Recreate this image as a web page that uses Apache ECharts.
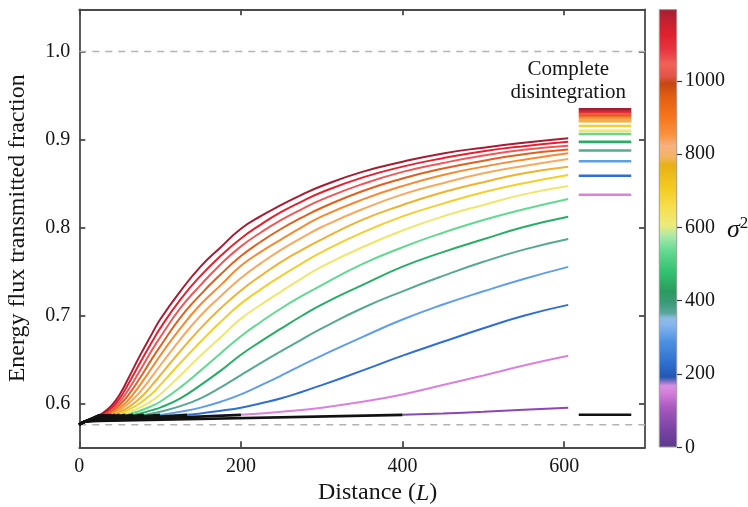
<!DOCTYPE html>
<html>
<head>
<meta charset="utf-8">
<script src="https://cdn.jsdelivr.net/npm/echarts@6/dist/echarts.min.js"></script>
<style>
  html, body { margin: 0; padding: 0; background: #ffffff; }
  #chart { width: 748px; height: 507px; }
</style>
</head>
<body>
<div id="chart"></div>
<script>
// Noise variance of each run (one curve per value)
const sigma2 = [75, 150, 225, 300, 375, 450, 525, 600, 675, 750, 825, 900, 975, 1050, 1125, 1200];

// Transmitted fraction vs. distance once the beam starts to break up.
// The first point of each list is where the early (black) stage ends.
const frac75   = [[400, 0.5878], [450, 0.5894], [500, 0.5914], [550, 0.5937], [605, 0.5958]];
const frac150  = [[200, 0.5878], [250, 0.5914], [300, 0.5960], [350, 0.6027], [400, 0.6110], [450, 0.6216], [500, 0.6325], [550, 0.6438], [605, 0.6548]];
const frac225  = [[133.3, 0.5878], [150, 0.5894], [175, 0.5925], [200, 0.5960], [225, 0.6010], [250, 0.6066], [275, 0.6138], [300, 0.6216], [350, 0.6380], [400, 0.6550], [450, 0.6707], [500, 0.6860], [550, 0.7003], [605, 0.7126]];
const frac300  = [[100, 0.5878], [125, 0.5914], [150, 0.5960], [175, 0.6027], [200, 0.6110], [225, 0.6215], [250, 0.6325], [275, 0.6440], [300, 0.6550], [350, 0.6760], [400, 0.6960], [450, 0.7130], [500, 0.7280], [550, 0.7420], [605, 0.7557]];
const frac375  = [[80, 0.5878], [90, 0.5894], [100, 0.5914], [125, 0.5977], [150, 0.6066], [175, 0.6190], [200, 0.6330], [225, 0.6468], [250, 0.6602], [275, 0.6733], [300, 0.6860], [350, 0.7088], [400, 0.7280], [450, 0.7455], [500, 0.7615], [550, 0.7753], [605, 0.7874]];
const frac450  = [[66.7, 0.5878], [75, 0.5894], [90, 0.5932], [100, 0.5960], [125, 0.6066], [150, 0.6216], [175, 0.6380], [200, 0.6560], [225, 0.6715], [250, 0.6860], [275, 0.7000], [300, 0.7130], [350, 0.7350], [400, 0.7560], [450, 0.7725], [500, 0.7870], [550, 0.8010], [605, 0.8127]];
const frac525  = [[57.1, 0.5878], [60, 0.5886], [75, 0.5925], [90, 0.5980], [100, 0.6027], [125, 0.6190], [150, 0.6380], [175, 0.6577], [200, 0.6770], [225, 0.6935], [250, 0.7088], [275, 0.7225], [300, 0.7350], [350, 0.7588], [400, 0.7780], [450, 0.7945], [500, 0.8090], [550, 0.8211], [605, 0.8328]];
const frac600  = [[50, 0.5878], [60, 0.5905], [75, 0.5960], [90, 0.6040], [100, 0.6110], [125, 0.6325], [150, 0.6550], [175, 0.6760], [200, 0.6970], [225, 0.7130], [250, 0.7280], [275, 0.7425], [300, 0.7560], [350, 0.7780], [400, 0.7970], [450, 0.8130], [500, 0.8260], [550, 0.8380], [605, 0.8475]];
const frac675  = [[44.4, 0.5878], [50, 0.5894], [60, 0.5932], [75, 0.6010], [90, 0.6120], [100, 0.6216], [125, 0.6466], [150, 0.6707], [175, 0.6934], [200, 0.7140], [225, 0.7305], [250, 0.7455], [275, 0.7595], [300, 0.7725], [350, 0.7945], [400, 0.8130], [450, 0.8275], [500, 0.8404], [550, 0.8507], [605, 0.8600]];
const frac750  = [[40, 0.5878], [50, 0.5914], [60, 0.5960], [75, 0.6066], [90, 0.6216], [100, 0.6325], [125, 0.6602], [150, 0.6860], [175, 0.7088], [200, 0.7290], [225, 0.7460], [250, 0.7615], [275, 0.7748], [300, 0.7870], [350, 0.8090], [400, 0.8260], [450, 0.8404], [500, 0.8518], [550, 0.8619], [605, 0.8694]];
const frac825  = [[36.4, 0.5878], [40, 0.5890], [50, 0.5937], [60, 0.6000], [75, 0.6137], [90, 0.6314], [100, 0.6438], [125, 0.6735], [150, 0.7003], [175, 0.7224], [200, 0.7430], [225, 0.7600], [250, 0.7753], [275, 0.7887], [300, 0.8010], [350, 0.8211], [400, 0.8380], [450, 0.8507], [500, 0.8619], [550, 0.8702], [605, 0.8781]];
const frac900  = [[33.3, 0.5878], [40, 0.5905], [50, 0.5960], [60, 0.6040], [75, 0.6216], [90, 0.6415], [100, 0.6550], [125, 0.6860], [150, 0.7130], [175, 0.7350], [200, 0.7570], [225, 0.7730], [250, 0.7870], [275, 0.8005], [300, 0.8130], [350, 0.8320], [400, 0.8475], [450, 0.8600], [500, 0.8695], [550, 0.8774], [605, 0.8846]];
const frac975  = [[30.8, 0.5878], [40, 0.5923], [50, 0.5993], [60, 0.6093], [75, 0.6296], [90, 0.6516], [100, 0.6654], [125, 0.6982], [150, 0.7243], [175, 0.7473], [200, 0.7680], [225, 0.7845], [250, 0.7990], [275, 0.8115], [300, 0.8228], [350, 0.8416], [400, 0.8560], [450, 0.8673], [500, 0.8762], [550, 0.8835], [605, 0.8888]];
const frac1050 = [[28.6, 0.5878], [40, 0.5942], [50, 0.6027], [60, 0.6153], [75, 0.6380], [90, 0.6613], [100, 0.6758], [125, 0.7088], [150, 0.7350], [175, 0.7588], [200, 0.7790], [225, 0.7950], [250, 0.8090], [275, 0.8210], [300, 0.8320], [350, 0.8496], [400, 0.8635], [450, 0.8736], [500, 0.8821], [550, 0.8886], [605, 0.8932]];
const frac1125 = [[26.7, 0.5878], [32, 0.5905], [40, 0.5960], [50, 0.6066], [60, 0.6216], [75, 0.6466], [90, 0.6707], [100, 0.6860], [125, 0.7186], [150, 0.7455], [175, 0.7683], [200, 0.7880], [225, 0.8040], [250, 0.8180], [275, 0.8298], [300, 0.8404], [350, 0.8570], [400, 0.8695], [450, 0.8791], [500, 0.8869], [550, 0.8927], [605, 0.8977]];
const frac1200 = [[25, 0.5878], [30, 0.5905], [40, 0.5985], [50, 0.6110], [60, 0.6280], [75, 0.6550], [90, 0.6800], [100, 0.6960], [125, 0.7280], [150, 0.7560], [175, 0.7780], [200, 0.7990], [225, 0.8135], [250, 0.8260], [275, 0.8375], [300, 0.8475], [350, 0.8635], [400, 0.8750], [450, 0.8845], [500, 0.8910], [550, 0.8965], [605, 0.9016]];

// Early stage shared by all runs: launch value and the quick initial rise
const startDistance = [0, 3, 8];
const startFraction = [0.5765, 0.5785, 0.5805];

// Limiting value after complete disintegration, one per run
const finalFraction = [0.5879, 0.8376, 0.8592, 0.8755, 0.8878, 0.8976, 0.9065, 0.9100, 0.9155, 0.9210, 0.9230, 0.9254, 0.9277, 0.9300, 0.9320, 0.9345];
const finalSpan = [618, 683];

// Reference levels (dashed)
const referenceLevels = [1.0, 0.5765];

// Axis ticks
const xTicks = [0, 200, 400, 600];
const yTicks = [0.6, 0.7, 0.8, 0.9, 1.0];
const colorTicks = [0, 200, 400, 600, 800, 1000];
const colorbarMax = 1195;

const curves = [frac75, frac150, frac225, frac300, frac375, frac450, frac525, frac600,
                frac675, frac750, frac825, frac900, frac975, frac1050, frac1125, frac1200];

const lineColors = ['#8b47b6', '#db80dd', '#2f6fd2', '#5f9ee9', '#56a892', '#27ae66', '#62d991', '#efe66c',
                    '#f3cf2c', '#f0b12e', '#f8a95e', '#f58a2f', '#e0611c', '#f05858', '#e2232f', '#a61c32'];
const earlyColor = '#111111';

// Colormap used on the colour bar: [sigma^2, colour]
const colormap = [
  [0, '#5a3a8a'], [50, '#7a44a6'], [110, '#a85abf'], [145, '#d07bd8'], [168, '#d88fe0'],
  [180, '#7d70c6'], [192, '#2258b0'], [230, '#2f6fd0'], [290, '#4f92e2'], [335, '#86b6ee'],
  [352, '#8fbbe6'], [366, '#5aa79c'], [395, '#3b9a78'], [425, '#2a9c60'], [480, '#34c272'],
  [535, '#63d992'], [575, '#a6e8aa'], [605, '#eceb7c'], [650, '#f6e052'], [705, '#f4cc22'],
  [770, '#e9b014'], [792, '#f2b462'], [822, '#f8b180'], [852, '#f8923e'], [905, '#f5741a'],
  [960, '#e05c12'], [992, '#c44812'], [1012, '#e25444'], [1045, '#f06257'], [1085, '#e83541'],
  [1125, '#e0212f'], [1165, '#c2212f'], [1195, '#a21f33']
];

const serif = '"Liberation Serif", "DejaVu Serif", serif';
const frameColor = '#4a4a4a';
const textColor = '#151515';

const chart = echarts.init(document.getElementById('chart'), null, { renderer: 'canvas' });

const series = [];

referenceLevels.forEach(function (level) {
  series.push({
    type: 'line', xAxisIndex: 0, yAxisIndex: 0, z: 1,
    data: [[0, level], [700, level]],
    symbol: 'none', silent: true,
    lineStyle: { color: '#b3b3b3', width: 1.5, type: [7, 6] }
  });
});

curves.forEach(function (curve, i) {
  // broken-up stage, coloured by sigma^2
  series.push({
    type: 'line', name: 'σ² = ' + sigma2[i], xAxisIndex: 0, yAxisIndex: 0, z: 2,
    data: curve, symbol: 'none', smooth: 0.5, silent: true,
    lineStyle: { color: lineColors[i], width: 2 }
  });
  // limiting value after complete disintegration
  const v = finalFraction[i];
  series.push({
    type: 'line', xAxisIndex: 0, yAxisIndex: 0, z: 2,
    data: [[finalSpan[0], v], [finalSpan[1], v]], symbol: 'none', silent: true,
    lineStyle: { color: i === 0 ? earlyColor : lineColors[i], width: 2.6 }
  });
});

curves.forEach(function (curve) {
  // early stage, drawn in black up to the break-up point
  const early = startDistance.map(function (d, k) { return [d, startFraction[k]]; });
  early.push(curve[0]);
  series.push({
    type: 'line', xAxisIndex: 0, yAxisIndex: 0, z: 3,
    data: early, symbol: 'none', silent: true,
    lineStyle: { color: earlyColor, width: 2.6 }
  });
});

// colour bar
const gradientStops = colormap.map(function (s) {
  return { offset: 1 - s[0] / colorbarMax, color: s[1] };
});
series.push({
  type: 'bar', xAxisIndex: 2, yAxisIndex: 2, data: [colorbarMax], barWidth: '100%', silent: true,
  itemStyle: {
    color: new echarts.graphic.LinearGradient(0, 0, 0, 1, gradientStops),
    borderColor: '#9a9a9a', borderWidth: 0.6
  }
});

const axisLineStyle = { color: frameColor, width: 1.8 };

function frameAxis(extra) {
  return Object.assign({
    type: 'value', gridIndex: 0,
    axisLine: { show: true, onZero: false, lineStyle: axisLineStyle },
    splitLine: { show: false }
  }, extra);
}

const option = {
  animation: false,
  backgroundColor: '#ffffff',
  textStyle: { fontFamily: serif },
  grid: [
    { left: 79.3, right: 103, top: 9.3, bottom: 59.7, containLabel: false, outerBoundsMode: 'none' },
    { left: 659, width: 18, top: 9.3, bottom: 59.7, containLabel: false, outerBoundsMode: 'none' }
  ],
  xAxis: [
    frameAxis({
      position: 'bottom', min: 0, max: 700,
      axisTick: { show: true, inside: true, length: 6, customValues: xTicks, lineStyle: axisLineStyle },
      axisLabel: {
        show: true, customValues: xTicks, margin: 9, color: textColor, fontSize: 20, fontFamily: serif,
        formatter: function (v) { return String(v); }
      },
      name: '{a|Distance (}{i|L}{a|)}', nameLocation: 'middle', nameGap: 33,
      nameTextStyle: {
        padding: [0, 0, 0, 31],
        rich: {
          a: { fontSize: 24, fontFamily: serif, color: textColor },
          i: { fontSize: 24, fontFamily: serif, fontStyle: 'italic', color: textColor }
        }
      }
    }),
    frameAxis({
      position: 'top', min: 0, max: 700,
      axisTick: { show: true, inside: true, length: 6, customValues: xTicks, lineStyle: axisLineStyle },
      axisLabel: { show: false }
    }),
    { type: 'category', gridIndex: 1, data: ['σ²'], show: false }
  ],
  yAxis: [
    frameAxis({
      position: 'left', min: 0.551, max: 1.048,
      axisTick: { show: true, inside: true, length: 6, customValues: yTicks, lineStyle: axisLineStyle },
      axisLabel: {
        show: true, customValues: yTicks, margin: 9, color: textColor, fontSize: 20, fontFamily: serif,
        formatter: function (v) { return v.toFixed(1); }
      },
      name: 'Energy flux transmitted fraction', nameLocation: 'middle', nameGap: 50,
      nameTextStyle: { fontSize: 24, fontFamily: serif, color: textColor }
    }),
    frameAxis({
      position: 'right', min: 0.551, max: 1.048,
      axisTick: { show: true, inside: true, length: 6, customValues: yTicks, lineStyle: axisLineStyle },
      axisLabel: { show: false }
    }),
    {
      type: 'value', gridIndex: 1, position: 'right', min: 0, max: colorbarMax,
      axisLine: { show: false },
      splitLine: { show: false },
      axisTick: { show: true, inside: false, length: 5, customValues: colorTicks, lineStyle: { color: '#333', width: 1.2 } },
      axisLabel: {
        show: true, customValues: colorTicks, margin: 8, color: textColor, fontSize: 20, fontFamily: serif,
        formatter: function (v) { return String(v); }
      },
      name: '{s|σ}{p|2}', nameLocation: 'middle', nameRotate: 0, nameGap: 50,
      nameMoveOverlap: false,
      nameTextStyle: {
        align: 'left',
        padding: [4, 0, 0, 0],
        rich: {
          s: { fontSize: 26, fontFamily: serif, fontStyle: 'italic', color: textColor, lineHeight: 30 },
          p: { fontSize: 17, fontFamily: serif, color: textColor, verticalAlign: 'top', lineHeight: 30 }
        }
      }
    }
  ],
  series: series
};

chart.setOption(option);

// annotation above the limiting values
const notePos = chart.convertToPixel({ gridIndex: 0 }, [605, 0.967]);
chart.setOption({
  graphic: [{
    type: 'text', x: notePos[0], y: notePos[1], z: 10, silent: true,
    style: {
      text: 'Complete\ndisintegration', fill: textColor,
      fontSize: 21, fontFamily: serif, lineHeight: 23,
      align: 'center', verticalAlign: 'middle'
    }
  }]
});
</script>
</body>
</html>
